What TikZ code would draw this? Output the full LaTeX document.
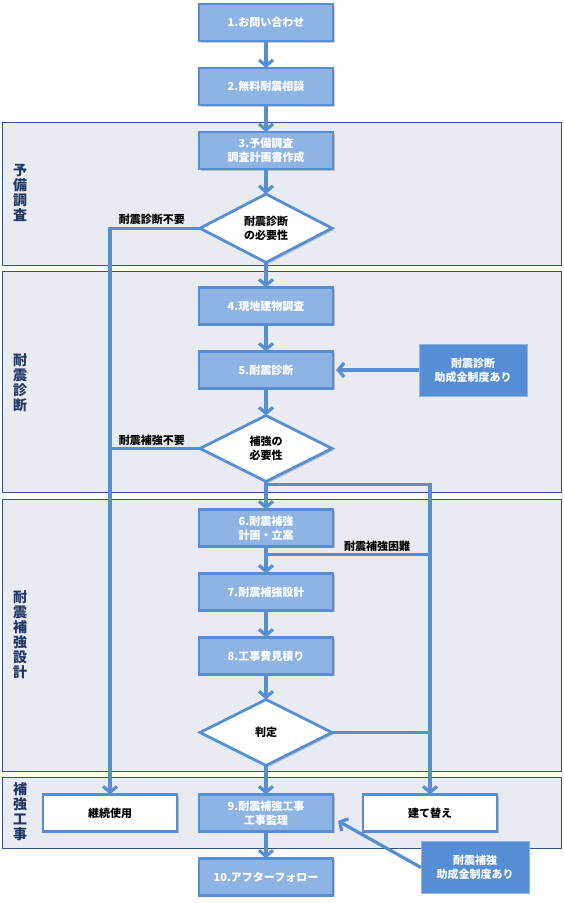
\documentclass[tikz,border=0pt]{standalone}
\usepackage{fontspec}
\setmainfont{Noto Sans CJK JP}
\usetikzlibrary{shapes,positioning,arrows.meta,shadows}
\usetikzlibrary{calc}
\definecolor{flowblue}{HTML}{558ED5}
\definecolor{boxblue}{HTML}{8EB4E3}
\definecolor{panelfill}{HTML}{E8EBF2}
\definecolor{paneldraw}{HTML}{2F528F}
\definecolor{titleblue}{HTML}{1F3864}

\begin{document}
\begin{tikzpicture}[
    x=1pt, y=-1pt,
    node distance=27pt and 22pt,
    stage/.style={rectangle, draw=flowblue, line width=2.8pt, fill=boxblue, text=white,
        minimum width=134pt, minimum height=37pt, inner sep=1pt, outer sep=0pt, align=center,
        font=\bfseries\fontsize{11}{14}\selectfont,
        drop shadow={shadow xshift=2pt, shadow yshift=-2pt, opacity=0.3, fill=black!70}},
    result/.style={stage, fill=white, text=black},
    check/.style={diamond, draw=flowblue, line width=2.8pt, fill=white, text=black,
        minimum width=132pt, minimum height=66pt, inner sep=0pt, outer sep=0pt, align=center,
        font=\bfseries\fontsize{11}{14}\selectfont,
        drop shadow={shadow xshift=2pt, shadow yshift=-2pt, opacity=0.2, fill=black!70}},
    grant/.style={rectangle, draw=boxblue, line width=0.8pt, fill=flowblue, text=white,
        minimum width=108pt, minimum height=52pt, outer sep=0pt, align=center,
        font=\bfseries\fontsize{11}{14}\selectfont},
    panel/.style={draw=paneldraw, line width=1pt, fill=panelfill},
    paneltitle/.style={text=titleblue, inner sep=0pt, align=center,
        font=\bfseries\fontsize{14}{15}\selectfont},
    note/.style={inner sep=0pt, text=black, font=\bfseries\fontsize{11}{13}\selectfont},
    flow/.style={draw=flowblue, line width=3.2pt, -{Straight Barb[length=6pt,width=14pt]}},
    link/.style={draw=flowblue, line width=3.2pt}
]
    \useasboundingbox (0,0) rectangle (564,903);

    \draw[panel] (2,122) rectangle (561,265);
    \draw[panel] (2,271) rectangle (561,492);
    \draw[panel] (2,499) rectangle (561,771);
    \draw[panel] (2,777) rectangle (561,848);
    \node[paneltitle] (t1) at (20,193) {予\\備\\調\\査};
    \node[paneltitle] (t2) at (20,383) {耐\\震\\診\\断};
    \node[paneltitle] (t3) at (20,635) {耐\\震\\補\\強\\設\\計};
    \node[paneltitle] (t4) at (20,812) {補\\強\\工\\事};

    \node[stage] (s1) at (266,22.5) {1.お問い合わせ};
    \node[stage, below=of s1] (s2) {2.無料耐震相談};
    \node[stage, below=of s2] (s3) {3.予備調査\\調査計画書作成};
    \node[check, below=25pt of s3] (c1) {耐震診断\\の必要性};
    \node[stage, below=25pt of c1] (s4) {4.現地建物調査};
    \node[stage, below=of s4] (s5) {5.耐震診断};
    \node[check, below=of s5] (c2) {補強の\\必要性};
    \node[stage, below=28pt of c2] (s6) {6.耐震補強\\計画・立案};
    \node[stage, below=of s6] (s7) {7.耐震補強設計};
    \node[stage, below=of s7] (s8) {8.工事費見積り};
    \node[check, below=25pt of s8] (c3) {判定};
    \node[stage, below=29pt of c3] (s9) {9.耐震補強工事\\工事監理};
    \node[stage, below=of s9] (s10) {10.アフターフォロー};
    \node[result, left=of s9] (keep) {継続使用};
    \node[result, right=30pt of s9] (rebuild) {建て替え};
    \node[grant, right=86pt of s5] (g1) {耐震診断\\助成金制度あり};
    \node[grant] (g2) at (475,867.5) {耐震補強\\助成金制度あり};

    \draw[flow] (s1) -- (s2); \draw[flow] (s2) -- (s3); \draw[flow] (s3) -- (c1);
    \draw[flow] (c1) -- (s4); \draw[flow] (s4) -- (s5); \draw[flow] (s5) -- (c2);
    \draw[flow] (c2) -- (s6); \draw[flow] (s6) -- (s7); \draw[flow] (s7) -- (s8);
    \draw[flow] (s8) -- (c3); \draw[flow] (c3) -- (s9); \draw[flow] (s9) -- (s10);

    \coordinate (j2) at ([yshift=-3pt]c2.south);
    \coordinate (j6) at ([yshift=-8pt]s6.south);
    \draw[flow] (c1.west) -| (keep.north);
    \draw[link] (c2.west) -- (c2.west -| keep.north);
    \draw[flow] (j2) -| (rebuild.north);
    \draw[link] (j6) -- (j6 -| rebuild.north);
    \draw[link] (c3.east) -- (c3.east -| rebuild.north);
    \draw[flow, shorten >=3pt] (g1) -- (s5);
    \draw[flow] (g2.west) -- ([xshift=5pt, yshift=-8pt]s9.east);

    \node[note, above left=3pt and 15pt of c1.west] (n1) {耐震診断不要};
    \node[note, above left=3pt and 15pt of c2.west] (n2) {耐震補強不要};
    \node[note, above right=3pt and 78pt of j6] (n3) {耐震補強困難};
\end{tikzpicture}
\end{document}
